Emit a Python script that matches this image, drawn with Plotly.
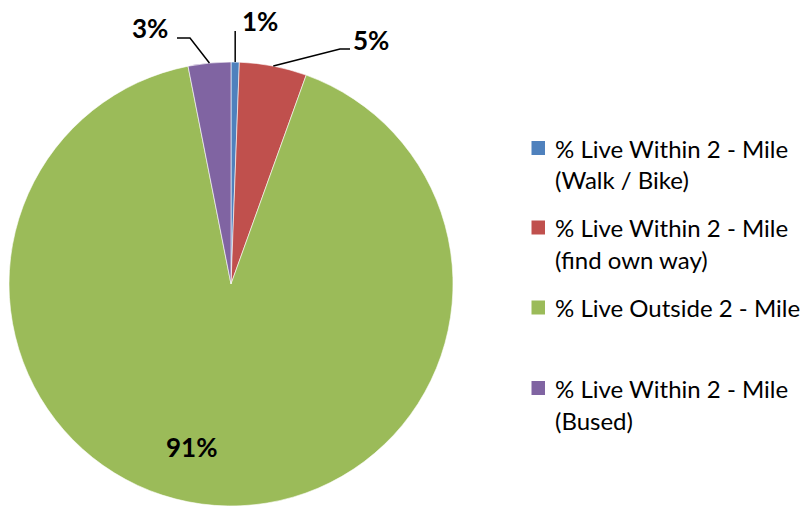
import math
import plotly.graph_objects as go

categories = [
    "% Live Within 2 - Mile<br>(Walk / Bike)",
    "% Live Within 2 - Mile<br>(find own way)",
    "% Live Outside 2 - Mile",
    "% Live Within 2 - Mile<br>(Bused)",
]
values = [0.6, 4.9, 91.4, 3.1]
pct_labels = ["1%", "5%", "91%", "3%"]
colors = ["#4F81BD", "#C0504D", "#9BBB59", "#8064A2"]

W, H = 800, 506
CX, CY, R = 231, 284, 222


def px(x):
    return x / W


def py(y):
    return 1 - y / H


fig = go.Figure(go.Pie(
    labels=[c.replace("<br>", " ") for c in categories],
    values=values,
    sort=False,
    direction="clockwise",
    rotation=0,
    marker=dict(colors=colors, line=dict(color="white", width=0.6)),
    textinfo="none",
    hoverinfo="label+percent",
    showlegend=False,
    domain=dict(x=[px(CX - R), px(CX + R)], y=[py(CY + R), py(CY - R)]),
))

# slice mid angles (degrees clockwise from 12 o'clock), derived from data
total = sum(values)
mids = []
acc = 0
for v in values:
    mids.append((acc + v / 2) / total * 360)
    acc += v


def rim(angle, frac=1.0):
    a = math.radians(angle)
    return CX + R * frac * math.sin(a), CY - R * frac * math.cos(a)


FONT = "Lato, Liberation Sans, Arial"
label_font = dict(family=FONT, size=26, color="black")
shapes = []
annotations = []
lw = dict(color="black", width=1.5)

# 1% (blue): vertical leader
x0, y0 = rim(mids[0])
shapes.append(dict(type="path", xref="paper", yref="paper",
                   path=f"M {px(x0)} {py(y0)} L {px(x0)} {py(31)}", line=lw))
annotations.append(dict(x=px(x0 + 5), y=py(21), xref="paper", yref="paper",
                        text=f"<b>{pct_labels[0]}</b>", showarrow=False,
                        xanchor="left", yanchor="middle", font=label_font))

# 5% (red)
x0, y0 = rim(mids[1])
ex, ey = 340, 49
shapes.append(dict(type="path", xref="paper", yref="paper",
                   path=f"M {px(x0)} {py(y0)} L {px(ex)} {py(ey)} L {px(ex + 10)} {py(ey)}",
                   line=lw))
annotations.append(dict(x=px(ex + 11), y=py(40), xref="paper", yref="paper",
                        text=f"<b>{pct_labels[1]}</b>", showarrow=False,
                        xanchor="left", yanchor="middle", font=label_font))

# 3% (purple)
x0, y0 = rim(mids[3])
ex, ey = 190, 38
shapes.append(dict(type="path", xref="paper", yref="paper",
                   path=f"M {px(x0)} {py(y0)} L {px(ex)} {py(ey)} L {px(ex - 13)} {py(ey)}",
                   line=lw))
annotations.append(dict(x=px(ex - 20), y=py(28), xref="paper", yref="paper",
                        text=f"<b>{pct_labels[3]}</b>", showarrow=False,
                        xanchor="right", yanchor="middle", font=label_font))

# 91% (green) inside
annotations.append(dict(x=px(191.5), y=py(447), xref="paper", yref="paper",
                        text=f"<b>{pct_labels[2]}</b>", showarrow=False,
                        xanchor="center", yanchor="middle", font=label_font))

# legend (drawn manually to match spacing)
legend_font = dict(family=FONT, size=24, color="black")
item_y = [148, 227.5, 307.5, 388]
LINE = 32
for cat, col, yy in zip(categories, colors, item_y):
    shapes.append(dict(type="rect", xref="paper", yref="paper",
                       x0=px(531.5), x1=px(545), y0=py(yy - 7), y1=py(yy + 7),
                       fillcolor=col, line=dict(width=0)))
    for i, line in enumerate(cat.split("<br>")):
        annotations.append(dict(x=px(553), y=py(yy + i * LINE), xref="paper", yref="paper",
                                text=line, showarrow=False, xanchor="left",
                                yanchor="middle", font=legend_font))

fig.update_layout(
    width=W, height=H,
    margin=dict(l=0, r=0, t=0, b=0, autoexpand=False),
    paper_bgcolor="white",
    plot_bgcolor="white",
    shapes=shapes,
    annotations=annotations,
)

fig.write_html("out.html", config={"displayModeBar": False},
               post_script="document.body.style.margin='0';")
